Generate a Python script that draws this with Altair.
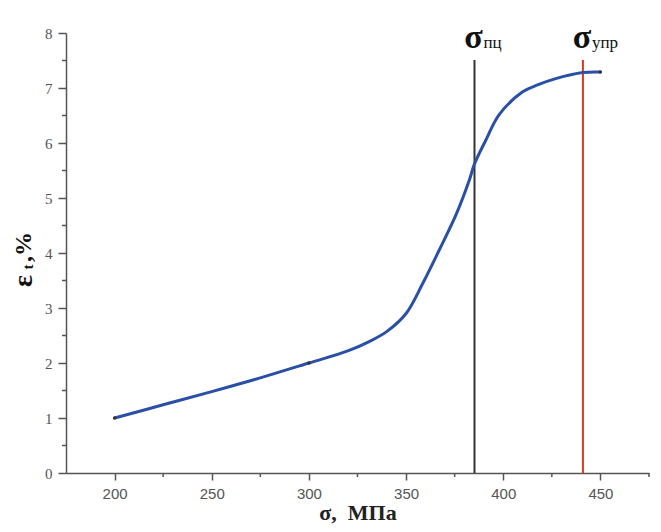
import altair as alt
import pandas as pd

# curve values
sigma = [200, 225, 250, 275, 300, 320, 331, 340, 350, 358.6, 367, 376, 382.6, 385.2, 391, 398, 410, 418, 427, 441, 450]
eps = [1.0, 1.24, 1.48, 1.73, 2.0, 2.22, 2.39, 2.57, 2.90, 3.45, 4.05, 4.72, 5.33, 5.62, 6.05, 6.52, 6.93, 7.06, 7.17, 7.28, 7.29]

dot_sigma = [200, 300, 450]
dot_eps = [1.0, 2.0, 7.29]

# vertical marker lines
mark_sigma = [385.2, 441]
mark_color = ["#333333", "#e2361f"]
mark_top = 7.51
mark_sym = ["σ", "σ"]
mark_sub = ["пц", "упр"]
label_y = 7.73

x_major = [200, 250, 300, 350, 400, 450]
x_minor = [225, 275, 325, 375, 425, 475]
y_major = [0, 1, 2, 3, 4, 5, 6, 7, 8]
y_minor = [0.5, 1.5, 2.5, 3.5, 4.5, 5.5, 6.5, 7.5]

W, H = 583, 440
AX = "#555555"

curve = pd.DataFrame({"s": sigma, "e": eps})
dots = pd.DataFrame({"s": dot_sigma, "e": dot_eps})
marks = pd.DataFrame({"s": mark_sigma, "c": mark_color, "top": [mark_top] * 2,
                      "sym": mark_sym, "sub": mark_sub, "ly": [label_y] * 2})
xm = pd.DataFrame({"s": x_minor})
ym = pd.DataFrame({"e": y_minor})

xscale = alt.Scale(domain=[175, 475], nice=False)
yscale = alt.Scale(domain=[0, 8], nice=False)

xaxis = alt.Axis(values=x_major, title="σ,\u00a0\u00a0МПа", titleFont="Liberation Serif",
                 titleFontSize=22, titleFontWeight="bold", titleColor="#222222",
                 titlePadding=1, labelFont="Liberation Sans", labelFontSize=15,
                 labelColor=AX, labelPadding=6, tickSize=7, tickColor=AX,
                 tickWidth=1.5, domainColor=AX, domainWidth=1.5, grid=False)
yaxis = alt.Axis(values=y_major, title=None, labelFont="Liberation Serif",
                 labelFontSize=15, labelColor=AX, labelPadding=6, tickSize=8,
                 tickColor=AX, tickWidth=1.5, domainColor=AX, domainWidth=1.5,
                 grid=False)

base_x = alt.X("s:Q", scale=xscale, axis=xaxis)
base_y = alt.Y("e:Q", scale=yscale, axis=yaxis)

line = alt.Chart(curve).mark_line(color="#2a4fa6", strokeWidth=3,
                                  interpolate="catmull-rom").encode(x=base_x, y=base_y)

pts = alt.Chart(dots).mark_circle(color="#333333", size=12, opacity=1).encode(
    x=alt.X("s:Q", scale=xscale), y=alt.Y("e:Q", scale=yscale))

vlines = alt.Chart(marks).mark_rule(strokeWidth=2).encode(
    x=alt.X("s:Q", scale=xscale),
    y=alt.Y("top:Q", scale=yscale), y2=alt.datum(0),
    color=alt.Color("c:N", scale=None))

sym = alt.Chart(marks).mark_text(font="Liberation Serif", fontSize=34,
                                 fontWeight="bold", baseline="alphabetic",
                                 align="center", color="#111111", dx=-1).encode(
    x=alt.X("s:Q", scale=xscale), y=alt.Y("ly:Q", scale=yscale), text="sym:N")

sub = alt.Chart(marks).mark_text(font="Liberation Serif", fontSize=17,
                                 baseline="alphabetic", align="left",
                                 color="#111111", dx=9).encode(
    x=alt.X("s:Q", scale=xscale), y=alt.Y("ly:Q", scale=yscale), text="sub:N")

xminor = alt.Chart(xm).mark_rule(color=AX, strokeWidth=1.5).encode(
    x=alt.X("s:Q", scale=xscale), y=alt.value(H), y2=alt.value(H + 4))
yminor = alt.Chart(ym).mark_rule(color=AX, strokeWidth=1.5).encode(
    y=alt.Y("e:Q", scale=yscale), x=alt.value(0), x2=alt.value(-4))

# y-axis title: ε with subscript t, then ",%"
yt1 = alt.Chart(pd.DataFrame({"t": ["ε"]})).mark_text(
    font="Liberation Serif", fontSize=28, fontWeight="bold", angle=270,
    baseline="alphabetic", align="center", color="#111111").encode(
    text="t:N", x=alt.value(-34), y=alt.value(248))
yt2 = alt.Chart(pd.DataFrame({"t": ["t"]})).mark_text(
    font="Liberation Serif", fontSize=15, fontWeight="bold", angle=270,
    baseline="alphabetic", align="center", color="#111111").encode(
    text="t:N", x=alt.value(-33), y=alt.value(234))
yt3 = alt.Chart(pd.DataFrame({"t": [",%"]})).mark_text(
    font="Liberation Serif", fontSize=24, fontWeight="bold", angle=270,
    baseline="alphabetic", align="center", color="#111111").encode(
    text="t:N", x=alt.value(-35), y=alt.value(214))

chart = alt.layer(vlines, line, pts, xminor, yminor, sym, sub, yt1, yt2, yt3).properties(
    width=W, height=H,
    autosize=alt.AutoSizeParams(type="none"),
    padding={"left": 58, "top": 25, "right": 4, "bottom": 51},
    background="white",
).configure_view(stroke=None)

chart.save("out.html", embed_options={"renderer": "svg", "actions": False})
